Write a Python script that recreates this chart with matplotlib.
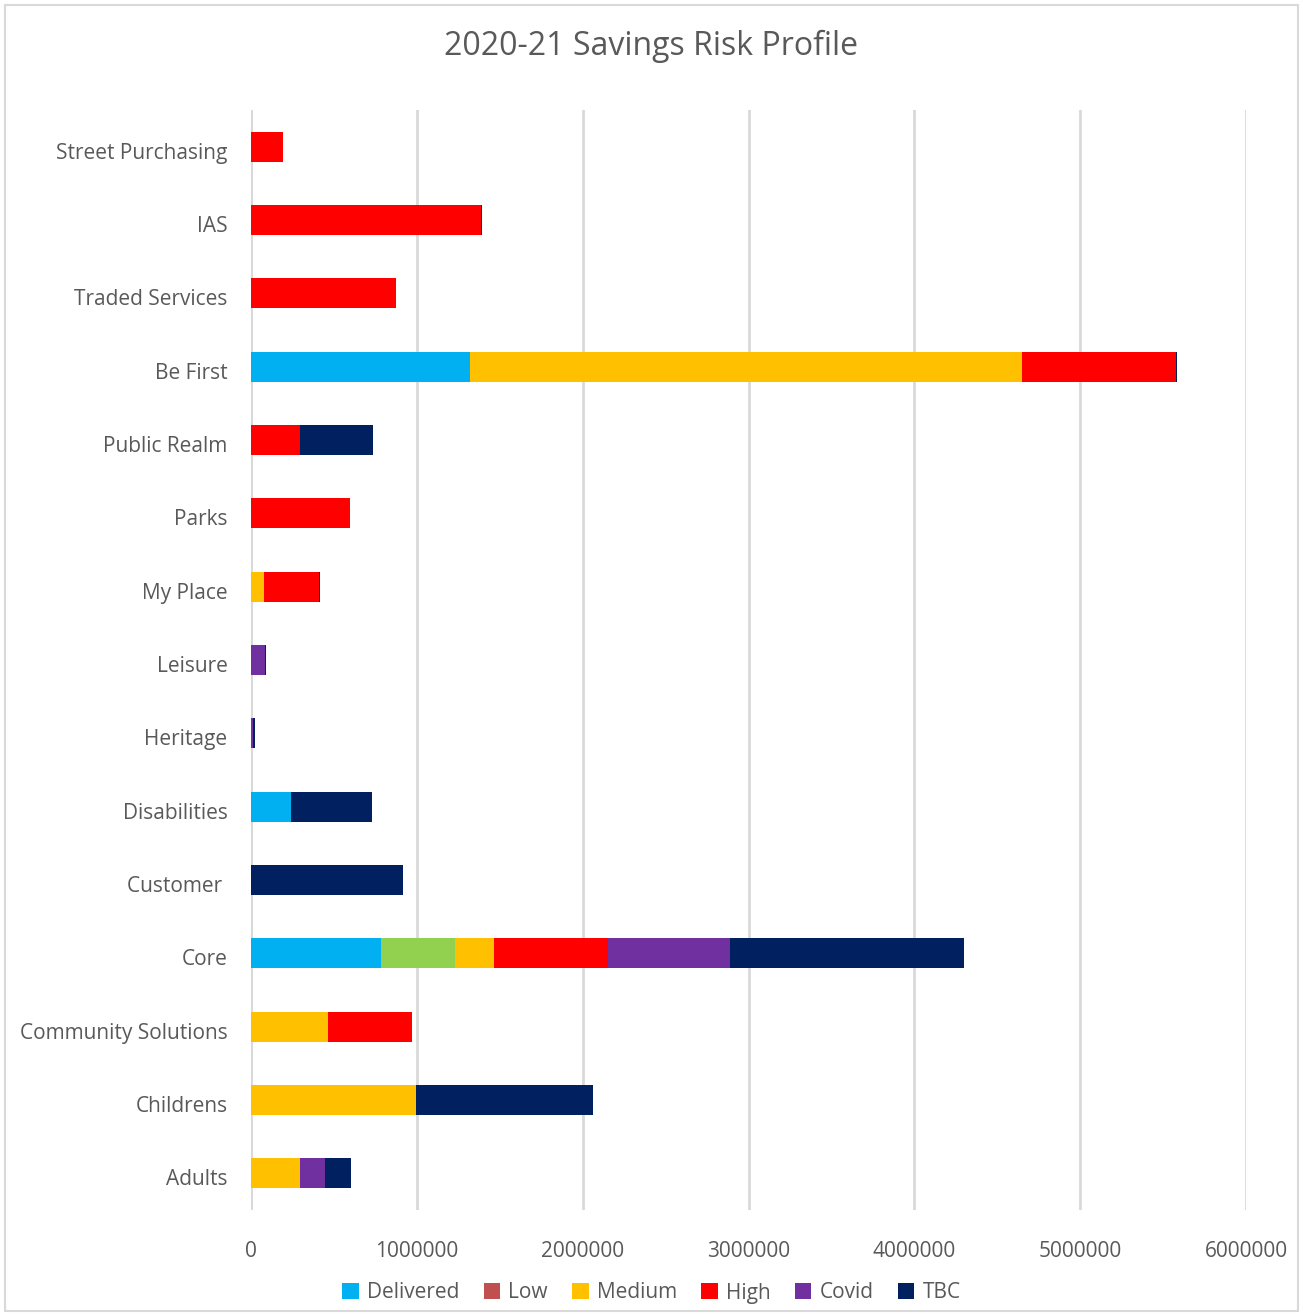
import numpy as np
import matplotlib.pyplot as plt
import matplotlib.transforms as mtrans
from matplotlib.patches import Patch, Rectangle

plt.rcParams['font.family'] = ['Open Sans', 'DejaVu Sans']

categories = ['Adults', 'Childrens', 'Community Solutions', 'Core', 'Customer ',
              'Disabilities', 'Heritage', 'Leisure', 'My Place', 'Parks',
              'Public Realm', 'Be First', 'Traded Services', 'IAS', 'Street Purchasing']

delivered = [0, 0, 0, 784000, 0, 241000, 0, 0, 0, 0, 0, 1321000, 0, 0, 0]
low       = [0, 0, 0, 447000, 0, 0, 0, 0, 0, 0, 0, 0, 0, 0, 0]
medium    = [296000, 995000, 464000, 237000, 0, 0, 0, 0, 78000, 0, 0, 3329000, 0, 0, 0]
high      = [0, 0, 507000, 685000, 0, 0, 0, 0, 334000, 597000, 296000, 927000, 873000, 1389000, 191000]
covid     = [150000, 0, 0, 733000, 0, 0, 14000, 86000, 0, 0, 0, 0, 0, 0, 0]
tbc       = [157000, 1068000, 0, 1411000, 917000, 489000, 10000, 4000, 4000, 0, 440000, 4000, 4000, 4000, 4000]

series = ['Delivered', 'Low', 'Medium', 'High', 'Covid', 'TBC']
colors = ['#00B0F0', '#C0504D', '#FFC000', '#FF0000', '#7030A0', '#002060']
values = [delivered, low, medium, high, covid, tbc]

fig = plt.figure(figsize=(13.03, 13.14), dpi=100)
ax = fig.add_axes([251 / 1303, 1 - 1210 / 1314, (1246 - 251) / 1303, (1210 - 110) / 1314])

y = np.arange(len(categories))
left = np.zeros(len(categories))
for name, col, vals in zip(series, colors, values):
    bar_colors = [col] * len(categories)
    if name == 'Low':
        # the Core point is shown in green in the original
        bar_colors = ['#92D050'] * len(categories)
    ax.barh(y, vals, left=left, height=0.41, color=bar_colors, zorder=3)
    left += np.array(vals)

ax.set_xlim(0, 6000000)
ax.set_ylim(-0.5, len(categories) - 0.5)
ax.set_xticks(np.arange(0, 6000001, 1000000))
ax.set_xticklabels([str(v) for v in range(0, 6000001, 1000000)])
ax.set_yticks(y)
ax.set_yticklabels(categories)
ax.tick_params(axis='both', length=0, labelsize=15, colors='#595959')
ax.tick_params(axis='y', pad=17)
ax.tick_params(axis='x', pad=22)
shift = mtrans.ScaledTranslation(0, -4 / 100, fig.dpi_scale_trans)
for lab in ax.get_yticklabels():
    lab.set_transform(lab.get_transform() + shift)
ax.grid(axis='x', color='#D9D9D9', linewidth=2, zorder=0)
for s in ax.spines.values():
    s.set_visible(False)
ax.axvline(0, color='#D9D9D9', linewidth=2, zorder=1)

fig.text(0.5, 1 - 46 / 1314, '2020-21 Savings Risk Profile', ha='center', va='center',
         fontsize=23, color='#595959')

handles = [Patch(facecolor=c, label=n) for n, c in zip(series, colors)]
fig.legend(handles=handles, loc='center', bbox_to_anchor=(0.5, 1 - 1293 / 1314), ncol=6,
           frameon=False, fontsize=15, labelcolor='#595959', handlelength=0.8,
           handleheight=0.8, handletextpad=0.4, columnspacing=1.15)

fig.patches.append(Rectangle((0.004, 0.002), 0.992, 0.994, transform=fig.transFigure,
                             fill=False, edgecolor='#D9D9D9', linewidth=1.5))

fig.savefig('out.png', dpi=100)
